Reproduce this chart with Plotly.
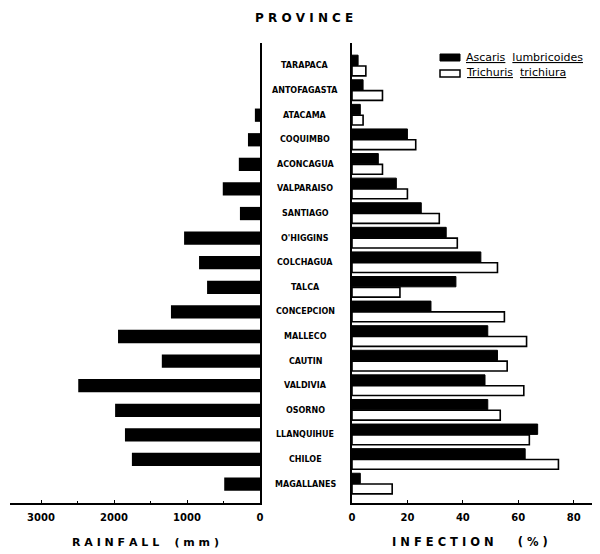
import plotly.graph_objects as go

provinces = ["TARAPACA", "ANTOFAGASTA", "ATACAMA", "COQUIMBO", "ACONCAGUA",
             "VALPARAISO", "SANTIAGO", "O'HIGGINS", "COLCHAGUA", "TALCA",
             "CONCEPCION", "MALLECO", "CAUTIN", "VALDIVIA", "OSORNO",
             "LLANQUIHUE", "CHILOE", "MAGALLANES"]
rainfall_mm = [0, 0, 70, 165, 290, 510, 275, 1040, 835, 725,
               1220, 1945, 1345, 2490, 1985, 1850, 1755, 490]
ascaris_pct = [2.2, 4, 3, 20, 9.5, 16, 25, 34, 46.5, 37.5,
               28.5, 49, 52.5, 48, 49, 67, 62.5, 3]
trichuris_pct = [5, 11, 4, 23, 11, 20, 31.5, 38, 52.5, 17.3,
                 55, 63, 56, 62, 53.5, 64, 74.5, 14.5]
rain_ticks = [0, 1000, 2000, 3000]
inf_ticks = [0, 20, 40, 60, 80]

rows = list(range(len(provinces)))
FONT = "DejaVu Sans"

# The page body has an 8px margin; work in screenshot pixels and convert.
OFF = 8
W, H = 600 - OFF, 554 - OFF
TOP, BOT = 43 - OFF, 503 - OFF


def py(pix):
    """screenshot pixel y (from top) -> paper y"""
    return (BOT - (pix - OFF)) / (BOT - TOP)


def px(pix):
    """screenshot pixel x -> paper x"""
    return (pix - OFF) / W


fig = go.Figure()
fig.add_trace(go.Bar(x=rainfall_mm, y=rows, orientation="h", xaxis="x", yaxis="y",
                     width=0.54, offset=-0.27,
                     marker=dict(color="black", line=dict(width=0)),
                     showlegend=False, name="Rainfall"))
fig.add_trace(go.Bar(x=ascaris_pct, y=rows, orientation="h", xaxis="x2", yaxis="y2",
                     width=0.42, offset=-0.44,
                     marker=dict(color="black", line=dict(color="black", width=1)),
                     showlegend=False, name="Ascaris lumbricoides"))
fig.add_trace(go.Bar(x=trichuris_pct, y=rows, orientation="h", xaxis="x2", yaxis="y2",
                     width=0.40, offset=0.0,
                     marker=dict(color="white", line=dict(color="black", width=1.6)),
                     showlegend=False, name="Trichuris trichiura"))

yrange = [17.77, -0.935]
tickfont = dict(family=FONT, size=10, color="black", weight="bold")
fig.update_layout(
    width=W, height=H,
    margin=dict(l=0, r=0, t=TOP, b=H - BOT, pad=0, autoexpand=False),
    paper_bgcolor="white", plot_bgcolor="white",
    xaxis=dict(domain=[px(10), px(260)], range=[3425, 0], tickvals=rain_ticks,
               ticktext=[str(v) for v in rain_ticks], showgrid=False, zeroline=False,
               showline=True, linecolor="black", linewidth=2, ticks="inside",
               ticklen=3, tickcolor="black", tickfont=tickfont, automargin=False,
               ticklabelstandoff=4,
               minor=dict(dtick=500, ticks="inside", ticklen=2, tickcolor="black")),
    yaxis=dict(domain=[0, 1], range=yrange, anchor="x", side="right",
               showticklabels=False, showgrid=False, zeroline=False, automargin=False,
               showline=True, linecolor="black", linewidth=2, ticks=""),
    xaxis2=dict(domain=[px(352), 1], range=[0, 89.5], tickvals=inf_ticks,
                ticktext=[str(v) for v in inf_ticks], showgrid=False, zeroline=False,
                showline=True, linecolor="black", linewidth=2, ticks="inside",
                ticklen=3, tickcolor="black", tickfont=tickfont, anchor="y2",
                automargin=False, ticklabelstandoff=4),
    yaxis2=dict(domain=[0, 1], range=yrange, anchor="x2", side="left",
                showticklabels=False, showgrid=False, zeroline=False, automargin=False,
                showline=True, linecolor="black", linewidth=2, ticks=""),
    barmode="overlay",
)

# Province names in the centre
for i, p in enumerate(provinces):
    fig.add_annotation(x=px(305), xref="paper", y=i, yref="y", text=p,
                       showarrow=False, xanchor="center", yanchor="middle",
                       font=dict(family=FONT, size=8, color="black", weight="bold"))

fig.add_annotation(x=px(304), xref="paper", y=py(18), yref="paper",
                   text="P R O V I N C E", showarrow=False, xanchor="center",
                   yanchor="middle",
                   font=dict(family=FONT, size=12, color="black", weight="bold"))
fig.add_annotation(x=px(145), xref="paper", y=py(542), yref="paper",
                   text="R A I N F A L L    ( m m )", showarrow=False, xanchor="center",
                   yanchor="middle",
                   font=dict(family=FONT, size=11, color="black", weight="bold"))
fig.add_annotation(x=px(470), xref="paper", y=py(542), yref="paper",
                   text="I N F E C T I O N      ( % )", showarrow=False,
                   xanchor="center", yanchor="middle",
                   font=dict(family=FONT, size=11.5, color="black", weight="bold"))

# Legend
fig.add_shape(type="rect", xref="paper", yref="paper",
              x0=px(440), x1=px(460), y0=py(61), y1=py(54),
              fillcolor="black", line=dict(color="black", width=1))
fig.add_shape(type="rect", xref="paper", yref="paper",
              x0=px(440), x1=px(460), y0=py(77), y1=py(70),
              fillcolor="white", line=dict(color="black", width=1.5))
fig.add_annotation(x=px(464), xref="paper", y=py(57), yref="paper",
                   text="<u>Ascaris</u>  <u>lumbricoides</u>", showarrow=False,
                   xanchor="left", yanchor="middle",
                   font=dict(family=FONT, size=11, color="black"))
fig.add_annotation(x=px(464), xref="paper", y=py(73), yref="paper",
                   text="<u>Trichuris</u>  <u>trichiura</u>", showarrow=False,
                   xanchor="left", yanchor="middle",
                   font=dict(family=FONT, size=11, color="black"))

fig.write_html("out.html")
